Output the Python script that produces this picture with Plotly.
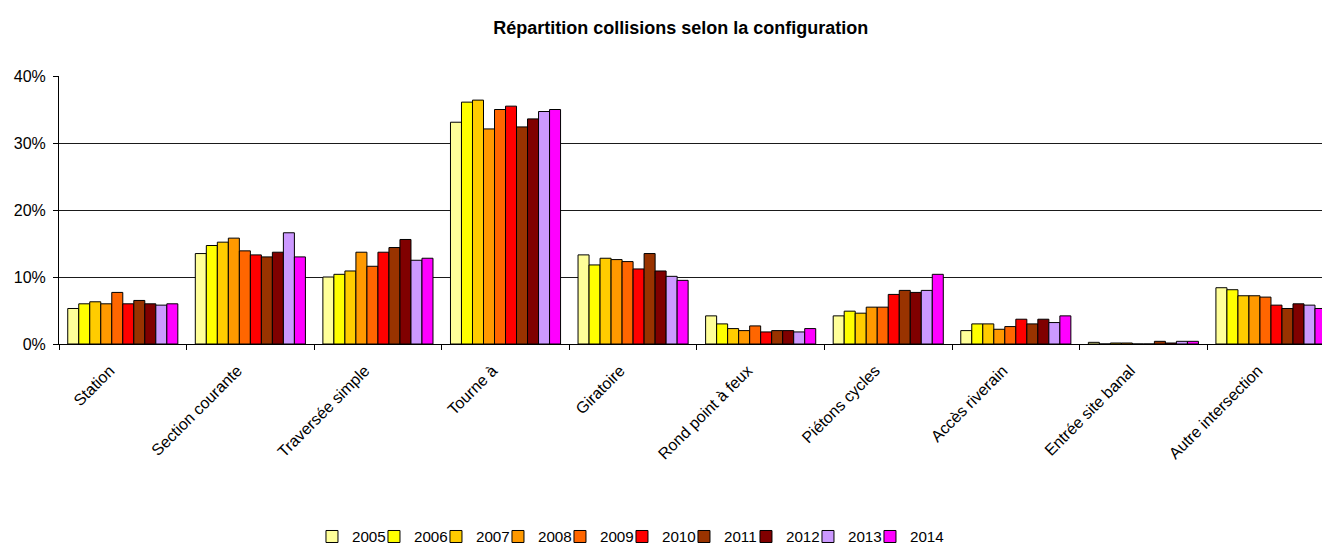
import plotly.graph_objects as go

categories = ["Station", "Section courante", "Traversée simple", "Tourne à", "Giratoire",
              "Rond point à feux", "Piétons cycles", "Accès riverain", "Entrée site banal",
              "Autre intersection"]
years = ["2005", "2006", "2007", "2008", "2009", "2010", "2011", "2012", "2013", "2014"]
colors = ["#FFFF99", "#FFFF00", "#FFCC00", "#FF9900", "#FF6600", "#FF0000", "#993300",
          "#800000", "#CC99FF", "#FF00FF"]

# values in %, one list per year, in category order
v2005 = [5.3, 13.5, 10.0, 33.1, 13.3, 4.2, 4.2, 2.0, 0.25, 8.4]
v2006 = [6.0, 14.7, 10.4, 36.1, 11.8, 3.0, 4.9, 3.0, 0.0, 8.1]
v2007 = [6.3, 15.2, 10.9, 36.4, 12.8, 2.3, 4.6, 3.0, 0.15, 7.2]
v2008 = [6.0, 15.8, 13.7, 32.1, 12.6, 2.0, 5.5, 2.2, 0.15, 7.2]
v2009 = [7.7, 13.9, 11.6, 35.0, 12.3, 2.7, 5.5, 2.6, 0.0, 7.0]
v2010 = [6.0, 13.3, 13.7, 35.5, 11.2, 1.8, 7.4, 3.7, 0.0, 5.8]
v2011 = [6.5, 13.0, 14.4, 32.4, 13.5, 2.0, 8.0, 3.0, 0.4, 5.3]
v2012 = [6.0, 13.7, 15.6, 33.6, 10.9, 2.0, 7.7, 3.7, 0.15, 6.0]
v2013 = [5.8, 16.6, 12.5, 34.7, 10.1, 1.8, 8.0, 3.2, 0.4, 5.8]
v2014 = [6.0, 13.0, 12.8, 35.0, 9.5, 2.3, 10.4, 4.2, 0.4, 5.3]
series = [v2005, v2006, v2007, v2008, v2009, v2010, v2011, v2012, v2013, v2014]

FONT = "Liberation Sans, Arial, sans-serif"

fig = go.Figure()
for y, vals, c in zip(years, series, colors):
    fig.add_trace(go.Bar(x=categories, y=vals, name=y,
                         marker=dict(color=c, line=dict(color="black", width=1))))

# invisible spacer entry so the last legend label is not clipped
fig.add_trace(go.Scatter(x=[None], y=[None], mode="markers", name=" ",
                         marker=dict(size=1, color="rgba(0,0,0,0)"),
                         hoverinfo="skip"))

fig.update_layout(
    width=1322, height=545,
    paper_bgcolor="white", plot_bgcolor="white",
    font=dict(family=FONT, size=16, color="black"),
    title=dict(text="<b>Répartition collisions selon la configuration</b>",
               x=0.515, xanchor="center", y=0.949, yanchor="middle",
               font=dict(size=18, family=FONT)),
    margin=dict(l=59, r=0, t=76, b=201, autoexpand=False),
    barmode="group", bargap=0.137, bargroupgap=0,
    showlegend=True,
    legend=dict(orientation="h", x=0.2003, xanchor="left", y=-0.7187, yanchor="middle",
                font=dict(size=15.2), itemwidth=30, traceorder="normal",
                entrywidth=17, entrywidthmode="pixels"),
)
fig.update_yaxes(range=[0, 40], dtick=10, ticksuffix="%", showgrid=True,
                 gridcolor="#1a1a1a", gridwidth=1.3, showline=True, linecolor="black",
                 linewidth=1, ticks="outside", ticklen=5, tickcolor="black",
                 zeroline=False, tickfont=dict(size=16), automargin=False,
                 ticklabelstandoff=4)
fig.update_xaxes(range=[-0.5, 9.4], showline=True, linecolor="black", linewidth=1,
                 ticks="outside", ticklen=5, tickcolor="black", tickson="boundaries",
                 tickangle=-45, showgrid=False, tickfont=dict(size=16), automargin=False,
                 ticklabelshift=-13, ticklabelstandoff=10)

fig.write_html("out.html", config={"displayModeBar": False},
               post_script="document.body.style.margin='0px';")
